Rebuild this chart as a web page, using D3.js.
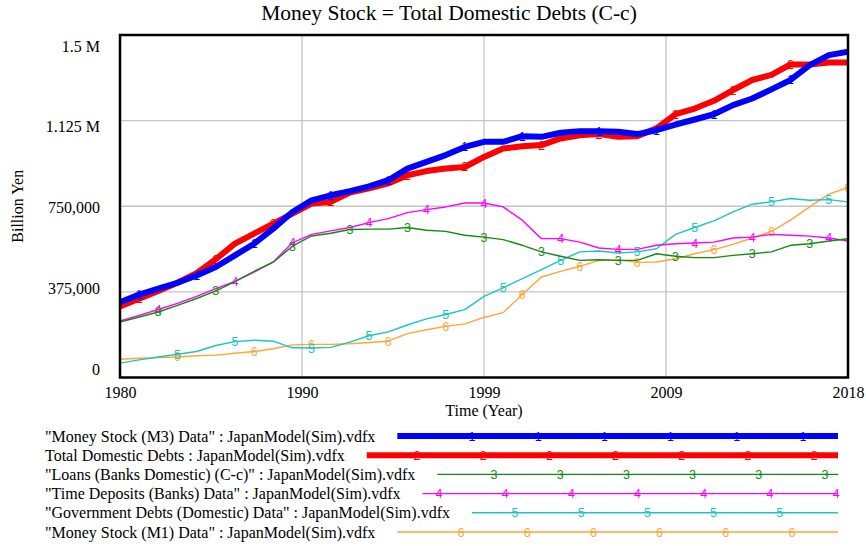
<!DOCTYPE html>
<html><head><meta charset="utf-8">
<script src="https://cdn.jsdelivr.net/npm/d3@7"></script>
<style>
html,body{margin:0;padding:0;background:#fff;}
svg{display:block;}
</style></head>
<body>
<svg id="chart" width="866" height="546"></svg>
<script>
// ---------- data ----------
const years = d3.range(1980, 2019);
const chartTitle = "Money Stock = Total Domestic Debts (C-c)";
const yAxisTitle = "Billion Yen";
const xAxisTitle = "Time (Year)";
const xTickValues = [1980, 1989.5, 1999, 2008.5, 2018];
const xTickLabels = ["1980", "1990", "1999", "2009", "2018"];
const yTickValues = [0, 375000, 750000, 1125000, 1500000];
const yTickLabels = ["0", "375,000", "750,000", "1.125 M", "1.5 M"];

const seriesNames = [
  "\"Money Stock (M3) Data\" : JapanModel(Sim).vdfx",
  "Total Domestic Debts : JapanModel(Sim).vdfx",
  "\"Loans (Banks Domestic) (C-c)\" : JapanModel(Sim).vdfx",
  "\"Time Deposits (Banks) Data\" : JapanModel(Sim).vdfx",
  "\"Government Debts (Domestic) Data\" : JapanModel(Sim).vdfx",
  "\"Money Stock (M1) Data\" : JapanModel(Sim).vdfx"
];
// values in thousand billion yen (x1000)
const moneyStockM3 = [330,363,389,415,447,484,535,586,652,725,776,798,816,837,864,915,944,974,1010,1032,1032,1057,1054,1072,1079,1079,1076,1066,1083,1108,1130,1153,1193,1222,1262,1303,1368,1412,1427];
const totalDomesticDebts = [311,345,379,415,457,518,586,630,674,718,762,769,810,828,850,886,904,915,922,966,1003,1013,1018,1047,1061,1066,1054,1057,1091,1153,1178,1212,1259,1303,1325,1371,1371,1380,1380];
const loansBanks = [243,265,287,316,346,379,420,465,505,575,620,632,648,650,650,657,645,640,623,615,604,579,550,531,513,516,513,513,542,531,525,525,535,542,550,579,586,598,608];
const timeDeposits = [247,272,298,325,355,389,421,462,506,590,627,642,657,678,696,722,735,747,764,764,747,689,608,608,593,567,561,561,579,586,589,593,611,615,627,623,619,611,598];
const govDebts = [63,77,90,102,114,140,157,163,159,130,129,132,155,183,200,230,257,276,297,355,393,433,472,513,550,554,545,550,564,627,657,686,725,759,769,784,776,779,769];
const moneyStockM1 = [80,84,87,90,95,98,106,114,126,143,145,145,148,153,159,192,209,224,235,263,284,363,440,465,487,513,515,504,506,520,542,560,583,611,640,689,747,803,832];
const seriesValues = [moneyStockM3, totalDomesticDebts, loansBanks, timeDeposits, govDebts, moneyStockM1];
const markerLabels = ["1","2","3","4","5","6"];
const markerYears = [
  [1981,1984,1987,1991,1994,1998,2001,2005,2008,2011,2015],
  [1981,1985,1988,1991,1995,1998,2002,2005,2009,2012,2015],
  [1982,1985,1989,1992,1995,1999,2002,2006,2009,2013,2016],
  [1982,1986,1989,1993,1996,1999,2003,2006,2010,2013,2017],
  [1983,1986,1990,1993,1997,2000,2003,2007,2010,2014,2017],
  [1983,1987,1990,1994,1997,2001,2004,2007,2011,2014,2018]
];

// ---------- style ----------
const SERIF = '"Liberation Serif", "Times New Roman", Times, "DejaVu Serif", serif';
const SANS = '"Liberation Sans", Arial, sans-serif';
const colors = ["#0000ff","#ff0000","#138a13","#ff00ff","#1cc4c4","#ffa534"];
const widths = [6, 6, 1.4, 1.4, 1.4, 1.4];
const legendFirstMark = [472, 417, 494, 439, 515, 461];

const svg = d3.select("#chart");
const plot = {left:120, right:848, top:35, bottom:377.5};

const x = d3.scaleLinear().domain([1980, 2018]).range([plot.left, plot.right]);
const y = d3.scaleLinear().domain([0, 1500000]).range([plot.bottom, plot.top]);
const yLabelPos = d3.scaleLinear().domain([0, 1500000]).range([369, 46]);

function serif(sel, size) {
  return sel.style("font-family", SERIF).style("font-size", size + "px").style("fill", "#000");
}

// title
serif(svg.append("text").attr("x", 449).attr("y", 20).attr("text-anchor","middle"), 21.5)
  .text(chartTitle);

// grid
const g = svg.append("g");
g.selectAll("line.vg").data(xTickValues.slice(1,-1)).join("line")
  .attr("x1", d=>x(d)).attr("x2", d=>x(d)).attr("y1", plot.top).attr("y2", plot.bottom)
  .attr("stroke","#c4c4c4").attr("stroke-width",1.3);
g.selectAll("line.hg").data(yTickValues.slice(1,-1)).join("line")
  .attr("y1", d=>y(d)).attr("y2", d=>y(d)).attr("x1", plot.left).attr("x2", plot.right)
  .attr("stroke","#c4c4c4").attr("stroke-width",1.3);

// axes
const xAxis = d3.axisBottom(x).tickValues(xTickValues).tickSize(0)
  .tickFormat((d,i)=>xTickLabels[i]);
const xg = svg.append("g").attr("transform", `translate(0,${plot.bottom})`).call(xAxis);
xg.select(".domain").remove();
serif(xg.selectAll("text").attr("y", 9).attr("dy","0.71em"), 16);

const yAxis = d3.axisLeft(yLabelPos).tickValues(yTickValues).tickSize(0)
  .tickFormat((d,i)=>yTickLabels[i]);
const yg = svg.append("g").attr("transform", `translate(${plot.left - 20},0)`).call(yAxis);
yg.select(".domain").remove();
serif(yg.selectAll("text").attr("x", 0), 16);

serif(svg.append("text").attr("x", x(1999)).attr("y", 416).attr("text-anchor","middle"), 16)
  .text(xAxisTitle);
serif(svg.append("text").attr("transform", `translate(23,${(plot.top+plot.bottom)/2}) rotate(-90)`)
  .attr("text-anchor","middle"), 16).text(yAxisTitle);

// clip
svg.append("clipPath").attr("id","clip").append("rect")
  .attr("x", plot.left).attr("y", plot.top).attr("width", plot.right-plot.left).attr("height", plot.bottom-plot.top);

const line = d3.line().x((d,i)=>x(years[i])).y(d=>y(d*1000));
const lg = svg.append("g").attr("clip-path","url(#clip)");
for (let s = seriesValues.length-1; s >= 0; s--) {
  lg.append("path").datum(seriesValues[s]).attr("d", line)
    .attr("fill","none").attr("stroke", colors[s]).attr("stroke-width", widths[s])
    .attr("stroke-linejoin","round").attr("stroke-linecap","butt");
  lg.selectAll(null).data(markerYears[s]).join("text")
    .attr("x", d=>x(d)).attr("y", d=>y(seriesValues[s][d-1980]*1000))
    .attr("dy","0.36em").attr("text-anchor","middle")
    .style("font-family", SANS).style("font-size","12.5px").style("fill", colors[s])
    .text(markerLabels[s]);
}

// frame
svg.append("rect").attr("x", plot.left).attr("y", plot.top)
  .attr("width", plot.right-plot.left).attr("height", plot.bottom-plot.top)
  .attr("fill","none").attr("stroke","#000").attr("stroke-width",2.5);

// legend
const legendEnd = 838;
const legendY0 = 436, legendStep = 19.2;
seriesNames.forEach((name, s) => {
  const yy = legendY0 + s*legendStep;
  const t = serif(svg.append("text").attr("x", 45).attr("y", yy).attr("dy","0.35em"), 16)
    .text(name);
  const tw = t.node().getComputedTextLength();
  const x0 = 45 + tw + 22;
  svg.append("line").attr("x1", x0).attr("x2", legendEnd).attr("y1", yy).attr("y2", yy)
    .attr("stroke", colors[s]).attr("stroke-width", widths[s]);
  const marks = [];
  for (let mx = legendFirstMark[s]; mx <= legendEnd; mx += 66.2) if (mx > x0) marks.push(mx);
  svg.selectAll(null).data(marks).join("text")
    .attr("x", d=>d).attr("y", yy).attr("dy","0.36em").attr("text-anchor","middle")
    .style("font-family", SANS).style("font-size","12.5px").style("fill", colors[s])
    .text(markerLabels[s]);
});
</script>
</body></html>
